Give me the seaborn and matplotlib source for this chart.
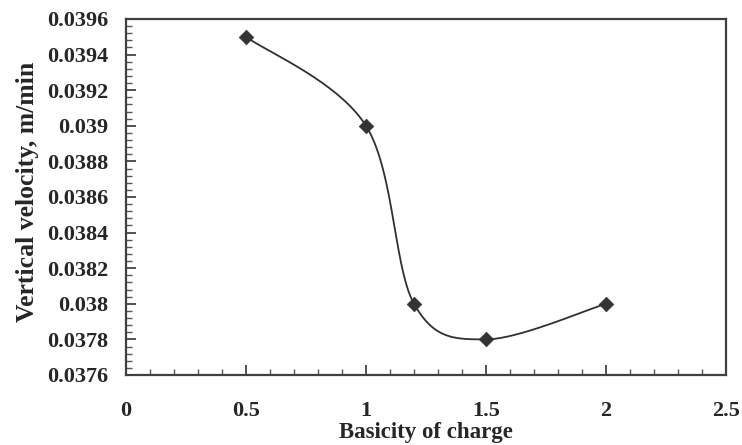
import numpy as np
import pandas as pd
import matplotlib
matplotlib.use("Agg")
import matplotlib.pyplot as plt
import seaborn as sns
from matplotlib.ticker import FixedLocator, MultipleLocator

# ---- data ----
basicity = [0.5, 1.0, 1.2, 1.5, 2.0]
velocity = [0.0395, 0.0390, 0.0380, 0.0378, 0.0380]

x_ticks = [0, 0.5, 1.0, 1.5, 2.0, 2.5]
x_tick_labels = ["0", "0.5", "1", "1.5", "2", "2.5"]
y_ticks = [0.0376, 0.0378, 0.0380, 0.0382, 0.0384, 0.0386,
           0.0388, 0.0390, 0.0392, 0.0394, 0.0396]
y_tick_labels = ["0.0376", "0.0378", "0.038", "0.0382", "0.0384", "0.0386",
                 "0.0388", "0.039", "0.0392", "0.0394", "0.0396"]

x_label = "Basicity of charge"
y_label = "Vertical velocity, m/min"

sns.set_style("ticks")
plt.rcParams["font.family"] = ["Liberation Serif", "DejaVu Serif"]
plt.rcParams["font.weight"] = "bold"

fig = plt.figure(figsize=(7.42, 4.45), dpi=100)
ax = fig.add_axes([126 / 742, 1 - 375 / 445, 600 / 742, 356 / 445])
ax.set_xlim(x_ticks[0], x_ticks[-1])
ax.set_ylim(y_ticks[0], y_ticks[-1])

# Excel-style smoothed line (Bezier through the points, computed in screen space)
pts = ax.transData.transform(np.column_stack([basicity, velocity]))
n = len(pts)
ext = np.vstack([pts[0], pts, pts[-1]])
curve = []
t = np.linspace(0, 1, 60)[:, None]
for i in range(n - 1):
    p0 = ext[i + 1]
    p3 = ext[i + 2]
    c1 = p0 + (ext[i + 2] - ext[i]) / 6.0
    c2 = p3 - (ext[i + 3] - ext[i + 1]) / 6.0
    seg = ((1 - t) ** 3) * p0 + 3 * ((1 - t) ** 2) * t * c1 + 3 * (1 - t) * t ** 2 * c2 + t ** 3 * p3
    curve.append(seg if i == 0 else seg[1:])
curve = ax.transData.inverted().transform(np.vstack(curve))
curve_df = pd.DataFrame({"x": curve[:, 0], "y": curve[:, 1]})
pts_df = pd.DataFrame({"x": basicity, "y": velocity})

sns.lineplot(data=curve_df, x="x", y="y", sort=False, estimator=None,
             color="#303030", linewidth=1.3, ax=ax)
sns.scatterplot(data=pts_df, x="x", y="y", marker="D", s=55,
                color="#333333", edgecolor="#333333", linewidth=0.5, zorder=5, ax=ax)

ax.set_xlim(x_ticks[0], x_ticks[-1])
ax.set_ylim(y_ticks[0], y_ticks[-1])
ax.xaxis.set_major_locator(FixedLocator(x_ticks))
ax.set_xticklabels(x_tick_labels)
ax.yaxis.set_major_locator(FixedLocator(y_ticks))
ax.set_yticklabels(y_tick_labels)
ax.xaxis.set_minor_locator(MultipleLocator(0.1))
ax.yaxis.set_minor_locator(MultipleLocator(0.00004))

ax.tick_params(axis="both", which="major", direction="in", length=7, width=1.2,
               color="#333333", labelsize=16, top=False, right=False)
ax.tick_params(axis="both", which="minor", direction="in", length=4.5, width=1.0,
               color="#555555", top=False, right=False)
ax.tick_params(axis="x", which="major", pad=19)
ax.tick_params(axis="y", which="major", pad=13)
for lab in ax.get_xticklabels() + ax.get_yticklabels():
    lab.set_fontweight("bold")

for sp in ax.spines.values():
    sp.set_visible(True)
    sp.set_color("#404040")
    sp.set_linewidth(1.6)

ax.set_xlabel(x_label, fontsize=16.5, fontweight="bold", labelpad=0.5)
ax.set_ylabel(y_label, fontsize=18.5, fontweight="bold", labelpad=7)
ax.yaxis.set_label_coords(-0.145, 0.515)
ax.grid(False)

fig.savefig("out.png", dpi=100)
